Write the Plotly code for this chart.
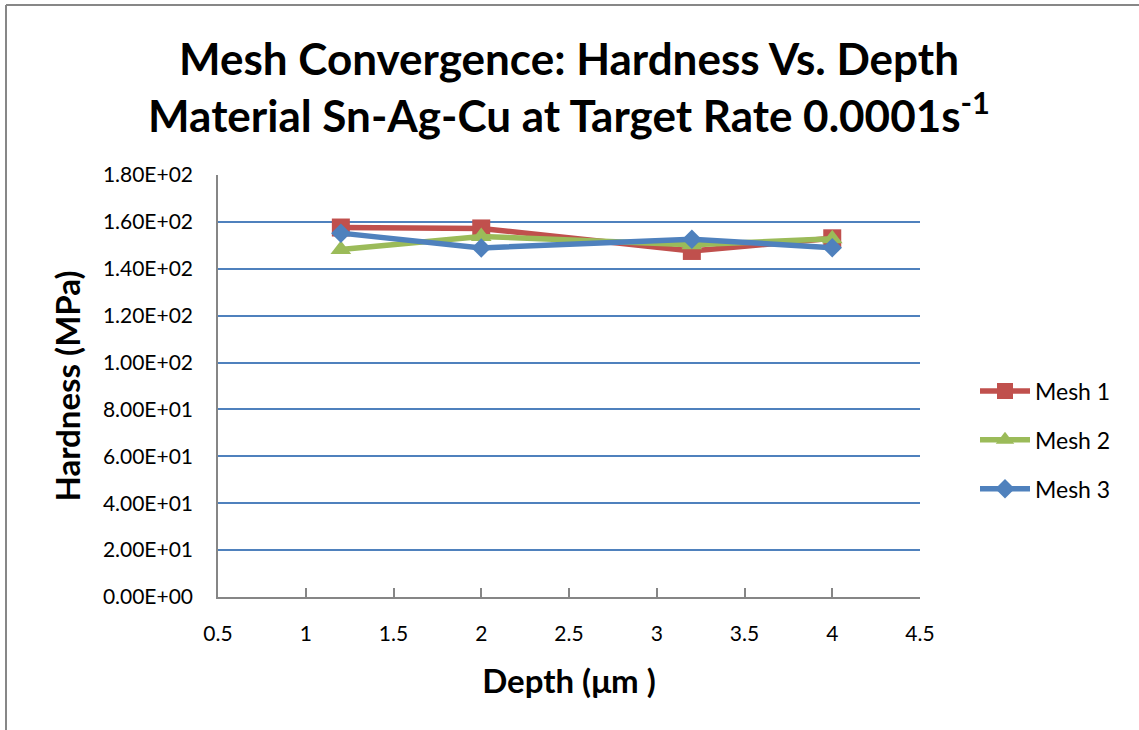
import plotly.graph_objects as go

# Indentation depth (µm) and computed hardness (MPa) per mesh refinement
depth = [1.2, 2.0, 3.2, 4.0]
mesh1 = [157.6, 157.2, 147.6, 153.0]
mesh2 = [148.2, 153.8, 150.2, 152.8]
mesh3 = [155.2, 148.9, 152.6, 149.0]

series_names = ["Mesh 1", "Mesh 2", "Mesh 3"]
series_colors = ["#C0504D", "#9BBB59", "#4F81BD"]
series_symbols = ["square", "triangle-up", "diamond"]
series_sizes = [18, 18, 15]

y_ticks = [0, 20, 40, 60, 80, 100, 120, 140, 160, 180]
y_ticklabels = [f"{v:.2E}" for v in y_ticks]
x_ticks = [0.5, 1, 1.5, 2, 2.5, 3, 3.5, 4, 4.5]
x_ticklabels = ["0.5", "1", "1.5", "2", "2.5", "3", "3.5", "4", "4.5"]

FONT = "Lato"

fig = go.Figure()
for i, (name, vals) in enumerate(zip(series_names, [mesh1, mesh2, mesh3])):
    fig.add_trace(go.Scatter(
        x=depth, y=vals, name=name, mode="lines+markers",
        legendgroup=name,
        line=dict(color=series_colors[i], width=5.5),
        marker=dict(symbol=series_symbols[i], size=series_sizes[i],
                    color=series_colors[i], line=dict(width=0)),
    ))

# plot area in pixels
L, R, T, B = 218, 920, 175, 597
W, H = 1139, 730

fig.update_layout(
    width=W, height=H,
    margin=dict(l=L, r=W - R, t=T, b=H - B),
    paper_bgcolor="white", plot_bgcolor="white",
    font=dict(family=FONT, color="black"),
    title=dict(
        text="Mesh Convergence: Hardness Vs. Depth<br>Material Sn-Ag-Cu at Target Rate 0.0001s<sup>-1</sup>",
        font=dict(family=FONT, size=44, color="black", weight="bold"),
        x=0.5, xanchor="center", xref="paper",
        y=0.897, yanchor="middle",
    ),
    xaxis=dict(
        range=[0.5, 4.5], tickvals=x_ticks, ticktext=x_ticklabels,
        showgrid=False, zeroline=False,
        showline=True, linecolor="#868686", linewidth=1.5,
        ticks="inside", ticklen=9, tickcolor="#868686", tickwidth=1.5,
        tickfont=dict(size=21, family=FONT), ticklabelstandoff=17,
        title=dict(text="Depth (μm )", font=dict(size=33, family=FONT, weight="bold"), standoff=26),
    ),
    yaxis=dict(
        range=[0, 180], tickvals=y_ticks, ticktext=y_ticklabels,
        showgrid=True, gridcolor="#4F81BD", gridwidth=1.5,
        zeroline=False,
        showline=True, linecolor="#868686", linewidth=1.5,
        ticks="", tickfont=dict(size=21, family=FONT), ticklabelstandoff=19,
        title=dict(text="Hardness (MPa)", font=dict(size=33, family=FONT, weight="bold"), standoff=12),
    ),
    legend=dict(
        x=(975 - L) / (R - L), xanchor="left",
        y=(B - 440) / (B - T), yanchor="middle",
        font=dict(size=23, family=FONT),
        tracegroupgap=16, traceorder="grouped",
        bgcolor="rgba(0,0,0,0)", itemwidth=50,
    ),
    showlegend=True,
)

# chart frame edges along the top and left
fig.add_shape(type="line", xref="paper", yref="paper",
              x0=(6 - L) / (R - L), x1=(W + 5 - L) / (R - L),
              y0=(B - 5) / (B - T), y1=(B - 5) / (B - T),
              line=dict(color="#878787", width=2))
fig.add_shape(type="line", xref="paper", yref="paper",
              x0=(6 - L) / (R - L), x1=(6 - L) / (R - L),
              y0=(B - 5) / (B - T), y1=(B - H - 5) / (B - T),
              line=dict(color="#878787", width=2))

fig.write_html("out.html")
